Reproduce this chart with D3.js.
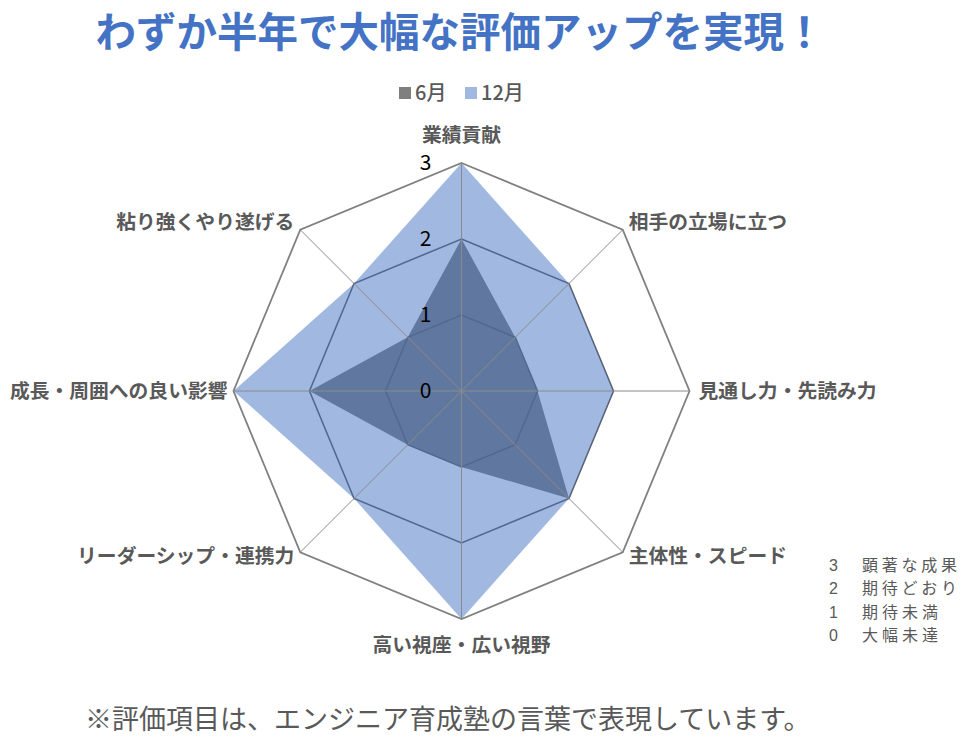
<!DOCTYPE html>
<html>
<head>
<meta charset="utf-8">
<script src="https://cdn.jsdelivr.net/npm/d3@7"></script>
<style>
  body { margin: 0; background: #fff; }
  text { font-family: "Noto Sans CJK JP", "Noto Sans", sans-serif; }
</style>
</head>
<body>
<svg id="chart"></svg>
<script>
var width = 975;
var height = 746;

// categories go clockwise from the top
var categories = ["業績貢献", "相手の立場に立つ", "見通し力・先読み力", "主体性・スピード",
                  "高い視座・広い視野", "リーダーシップ・連携力", "成長・周囲への良い影響", "粘り強くやり遂げる"];
var june = [2, 1, 1, 2, 1, 1, 2, 1];
var december = [3, 2, 2, 2, 3, 2, 3, 2];
var seriesNames = ["6月", "12月"];
var tickValues = [0, 1, 2, 3];
var noteNumbers = ["3", "2", "1", "0"];
var noteTexts = ["顕著な成果", "期待どおり", "期待未満", "大幅未達"];

var cx = 461.5, cy = 391;
var outerRadius = 228;

var svg = d3.select("#chart")
            .attr("width", width)
            .attr("height", height);

// value -> radius
var rScale = d3.scaleLinear()
            .domain([0, 3])
            .range([0, outerRadius]);

// category -> angle (radians, 0 at top, clockwise)
var angleScale = d3.scaleBand()
            .domain(categories)
            .range([0, 2 * Math.PI])
            .align(0)
            .paddingInner(0);
function angleOf(c) { return angleScale(c); }

function point(c, r) {
    var a = angleOf(c);
    return [cx + r * Math.sin(a), cy - r * Math.cos(a)];
}

var g = svg.append("g").attr("transform", `translate(${cx},${cy})`);

var radial = d3.lineRadial()
            .angle(d => angleOf(d.cat))
            .radius(d => rScale(d.v))
            .curve(d3.curveLinearClosed);

function rows(values) {
    return categories.map((c, i) => ({cat: c, v: values[i]}));
}

// 6月 (grey) sits at the bottom
g.append("path")
    .attr("d", radial(rows(june)))
    .attr("fill", "#7d7e7b");

// inner rings
g.selectAll(".ring")
    .data(tickValues.filter(t => t > 0 && t < 3))
    .enter()
    .append("path")
        .attr("class", "ring")
        .attr("d", t => radial(rows(categories.map(() => t))))
        .attr("fill", "none")
        .attr("stroke", "#5f5f5f")
        .attr("stroke-width", 1.6);

// 12月 half transparent blue on top
g.append("path")
    .attr("d", radial(rows(december)))
    .attr("fill", "#4472c4")
    .attr("fill-opacity", 0.5);

// outer ring
g.append("path")
    .attr("d", radial(rows(categories.map(() => 3))))
    .attr("fill", "none")
    .attr("stroke", "#808080")
    .attr("stroke-width", 1.8);

// spokes
g.selectAll(".spoke")
    .data(categories)
    .enter()
    .append("line")
        .attr("class", "spoke")
        .attr("x1", 0).attr("y1", 0)
        .attr("x2", c => rScale(3) * Math.sin(angleOf(c)))
        .attr("y2", c => -rScale(3) * Math.cos(angleOf(c)))
        .attr("stroke", "#8a8a8a")
        .attr("stroke-width", 1);

// tick labels on the top spoke
g.selectAll(".tick")
    .data(tickValues)
    .enter()
    .append("text")
        .attr("x", -36)
        .attr("y", t => -rScale(t))
        .attr("dy", "0.35em")
        .attr("text-anchor", "middle")
        .attr("fill", "#000")
        .style("font-size", "21px")
        .text(t => t);

// category labels
var labels = svg.selectAll(".cat")
    .data(categories)
    .enter()
    .append("text")
        .attr("class", "cat")
        .style("font-size", "19.8px")
        .style("font-weight", "bold")
        .attr("fill", "#595959")
        .attr("dy", "0.35em")
        .text(c => c);

labels.each(function(c, i) {
    var p = point(c, outerRadius);
    var sel = d3.select(this);
    var a = angleOf(c);
    var s = Math.round(Math.sin(a) * 100) / 100;
    var co = Math.round(Math.cos(a) * 100) / 100;
    if (s === 0) {
        sel.attr("text-anchor", "middle")
           .attr("x", p[0])
           .attr("y", co > 0 ? p[1] - 28 : p[1] + 26);
    } else if (co === 0) {
        sel.attr("text-anchor", s > 0 ? "start" : "end")
           .attr("x", s > 0 ? p[0] + 9 : p[0] - 6)
           .attr("y", p[1]);
    } else {
        sel.attr("text-anchor", s > 0 ? "start" : "end")
           .attr("x", s > 0 ? p[0] + 6 : p[0] - 6)
           .attr("y", co > 0 ? p[1] - 8 : p[1] + 4);
    }
});

// title
svg.append("text")
    .attr("x", 460)
    .attr("y", 47)
    .attr("text-anchor", "middle")
    .attr("fill", "#4472c4")
    .style("font-size", "40.5px")
    .style("font-weight", "bold")
    .text("わずか半年で大幅な評価アップを実現！");

// legend
var legendColors = ["#7f7f7f", "#a1b8e1"];
var legendX = [399, 465];
var legend = svg.selectAll(".legend")
    .data(seriesNames)
    .enter()
    .append("g")
        .attr("class", "legend")
        .attr("transform", (d, i) => `translate(${legendX[i]},93)`);
legend.append("rect")
    .attr("x", 0).attr("y", -6)
    .attr("width", 12).attr("height", 12)
    .attr("fill", (d, i) => legendColors[i]);
legend.append("text")
    .attr("x", 16)
    .attr("dy", "0.35em")
    .attr("fill", "#595959")
    .style("font-size", "20px")
    .style("font-weight", "500")
    .text(d => d);

// rating notes at the bottom right; the line pitch is tight, so the font is
// kept small enough for each line box to fit inside it
var notePitch = 23.5;
var noteRows = svg.selectAll(".note")
    .data(noteTexts)
    .enter()
    .append("g")
        .attr("class", "note")
        .attr("transform", (d, i) => `translate(0,${565 + i * notePitch})`);
noteRows.append("text")
    .attr("x", 829)
    .attr("dy", "0.35em")
    .attr("fill", "#595959")
    .style("font-size", "16px")
    .style("font-family", "Liberation Sans, Arial, sans-serif")
    .text((d, i) => noteNumbers[i]);
noteRows.append("text")
    .attr("x", 862)
    .attr("dy", "0.35em")
    .attr("fill", "#595959")
    .style("font-size", "16px")
    .attr("textLength", d => d.length * 19)
    .attr("lengthAdjust", "spacing")
    .text(d => d);

// footnote
svg.append("text")
    .attr("x", 85)
    .attr("y", 720)
    .attr("dy", "0.35em")
    .attr("fill", "#595959")
    .style("font-size", "27px")
    .text("※評価項目は、エンジニア育成塾の言葉で表現しています。");
</script>
</body>
</html>
